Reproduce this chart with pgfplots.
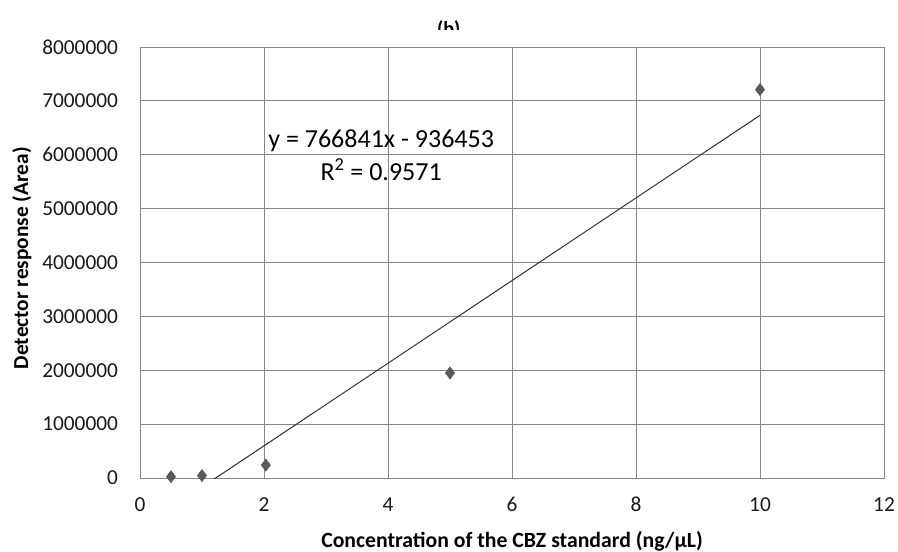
\documentclass[border=0pt]{standalone}
\usepackage{fontspec}
\setmainfont{Carlito}
\usepackage{pgfplots}
\pgfplotsset{compat=1.18}
\definecolor{gridgray}{RGB}{134,134,134}
\definecolor{markgray}{RGB}{89,89,89}

\begin{document}
\begin{tikzpicture}
\path[use as bounding box] (0pt,0pt) rectangle (673.5pt,413.25pt);
% title, partly hidden by the chart area as in the source
\node[font=\bfseries\fontsize{15}{17}\selectfont] at (336.5pt,391pt) {(b)};
\fill[white] (300pt,378.5pt) rectangle (380pt,390.5pt);
\begin{axis}[
  at={(105pt,54.75pt)}, anchor=south west,
  scale only axis,
  width=558pt, height=323.25pt,
  xmin=0, xmax=12, ymin=0, ymax=8000000,
  xtick={0,2,...,12},
  ytick={0,1000000,...,8000000},
  scaled y ticks=false,
  /pgf/number format/fixed,
  /pgf/number format/precision=0,
  /pgf/number format/1000 sep={},
  /pgf/number format/assume math mode=true,
  ticklabel style={font=\fontsize{16}{18}\selectfont, color=black!90},
  yticklabel style={xshift=-13pt},
  xticklabel style={yshift=-11pt},
  major tick length=0pt,
  grid=major,
  grid style={gridgray, line width=0.75pt},
  axis line style={gridgray, line width=0.75pt},
  xlabel={\textbf{Concentration of the CBZ standard (ng/μL)}},
  ylabel={\textbf{Detector response (Area)}},
  every axis x label/.style={at={(axis description cs:0.5,-0.146)}, anchor=center,
    font=\fontsize{16.3}{18}\selectfont},
  every axis y label/.style={at={(axis description cs:-0.1586,0.51)}, rotate=90, anchor=center,
    font=\fontsize{16}{18}\selectfont},
  clip=true,
]
\addplot[only marks, mark=diamond*, mark size=4.6pt, color=markgray] coordinates {
  (0.5,25000) (1,45000) (2.03,240000) (5,1950000) (10,7210000)
};
\addplot[color=black!80, line width=0.75pt] coordinates {
  (0.5,-553033) (10,6731957)
};
\node[font=\fontsize{19.5}{24.5}\selectfont, align=center] at (axis cs:3.89,5990000)
  {y = 766841x - 936453\\R\textsuperscript{2} = 0.9571};
\end{axis}
\end{tikzpicture}
\end{document}
